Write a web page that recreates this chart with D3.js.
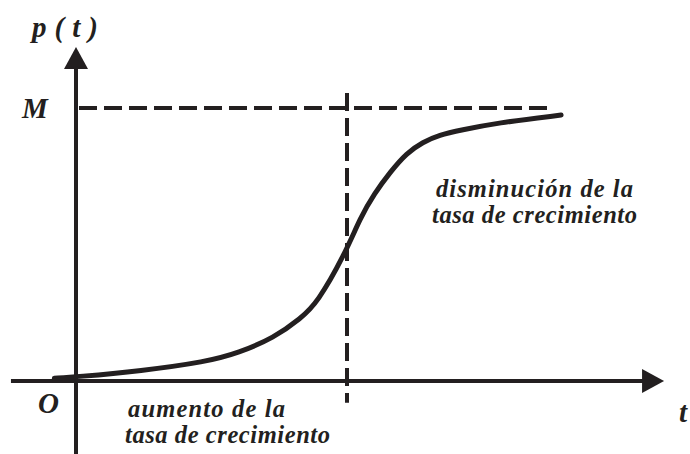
<!DOCTYPE html>
<html>
<head>
<meta charset="UTF-8">
<script src="https://d3js.org/d3.v7.min.js"></script>
<style>
body { margin: 0; background: #fff; }
</style>
</head>
<body>
<svg id="chart" width="690" height="454"></svg>
<script>
// curva logistica p(t) (M = 100, inflexion en t = 10)
var tVals = [-0.8, 0, 2.4, 4.8, 6, 7.3, 8.3, 8.9, 9.9, 10.5, 11, 11.6, 12.2, 12.8, 13.4, 14.2, 15.5, 17.9];
var pVals = [1, 1.5, 3.7, 7, 10.3, 15.8, 23, 28.6, 46, 60, 68.5, 76.6, 83.5, 87.5, 90.1, 91.9, 94.5, 97.4];
var M = 100;
var tInflexion = 10;
var tAxis = [-2.4, 21.7];     // extremo izquierdo / punta de flecha
var pAxis = [-27, 122.3];     // extremo inferior / punta de flecha
var tLimiteM = 17.4;          // fin de la linea punteada de M
var pInflexion = [-8, 105.5]; // tramo de la linea punteada vertical

var svg = d3.select("#chart");
var ink = "#231f20";
var fuente = "'Liberation Serif', 'Times New Roman', Times, serif";

var x = d3.scaleLinear().domain([0, 10]).range([76, 347]);
var y = d3.scaleLinear().domain([0, 100]).range([381, 108]);

// ejes
var head = 22, half = 12;
svg.append("line")
  .attr("x1", x(tAxis[0])).attr("x2", x(tAxis[1]) - head + 2)
  .attr("y1", y(0)).attr("y2", y(0))
  .attr("stroke", ink).attr("stroke-width", 4);
svg.append("path")
  .attr("d", d3.line()([[x(tAxis[1]), y(0)], [x(tAxis[1]) - head, y(0) - half], [x(tAxis[1]) - head, y(0) + half]]) + "Z")
  .attr("fill", ink);

svg.append("line")
  .attr("x1", x(0)).attr("x2", x(0))
  .attr("y1", y(pAxis[0])).attr("y2", y(pAxis[1]) + head - 2)
  .attr("stroke", ink).attr("stroke-width", 4);
svg.append("path")
  .attr("d", d3.line()([[x(0), y(pAxis[1])], [x(0) - half, y(pAxis[1]) + head], [x(0) + half, y(pAxis[1]) + head]]) + "Z")
  .attr("fill", ink);

// lineas punteadas
svg.append("line")
  .attr("x1", x(0) + 3).attr("x2", x(tLimiteM))
  .attr("y1", y(M)).attr("y2", y(M))
  .attr("stroke", ink).attr("stroke-width", 4)
  .attr("stroke-dasharray", "18,7");
svg.append("line")
  .attr("x1", x(tInflexion)).attr("x2", x(tInflexion))
  .attr("y1", y(pInflexion[1])).attr("y2", y(pInflexion[0]))
  .attr("stroke", ink).attr("stroke-width", 4)
  .attr("stroke-dasharray", "18,7");

// curva
var puntos = tVals.map((t, i) => [t, pVals[i]]);
svg.append("path")
  .datum(puntos)
  .attr("fill", "none")
  .attr("stroke", ink)
  .attr("stroke-width", 5)
  .attr("stroke-linecap", "round")
  .attr("d", d3.line().x(d => x(d[0])).y(d => y(d[1])).curve(d3.curveBasis));

// textos
function texto(px, py, size, s, ancho) {
  var t = svg.append("text")
    .attr("x", px).attr("y", py)
    .attr("font-family", fuente)
    .attr("font-weight", "bold")
    .attr("font-style", "italic")
    .attr("font-size", size)
    .attr("fill", ink)
    .text(s);
  if (ancho) t.attr("textLength", ancho).attr("lengthAdjust", "spacing");
}
texto(32, 37, 29, "p ( t )", 66);
texto(22, 118, 29, "M");
texto(38, 413, 29, "O");
texto(679, 422, 29, "t");

texto(436, 197, 24.5, "disminución de la", 197);
texto(432, 223, 24.5, "tasa de crecimiento", 205);
texto(128, 417, 24.5, "aumento de la", 157);
texto(125, 443, 24.5, "tasa de crecimiento", 205);
</script>
</body>
</html>
